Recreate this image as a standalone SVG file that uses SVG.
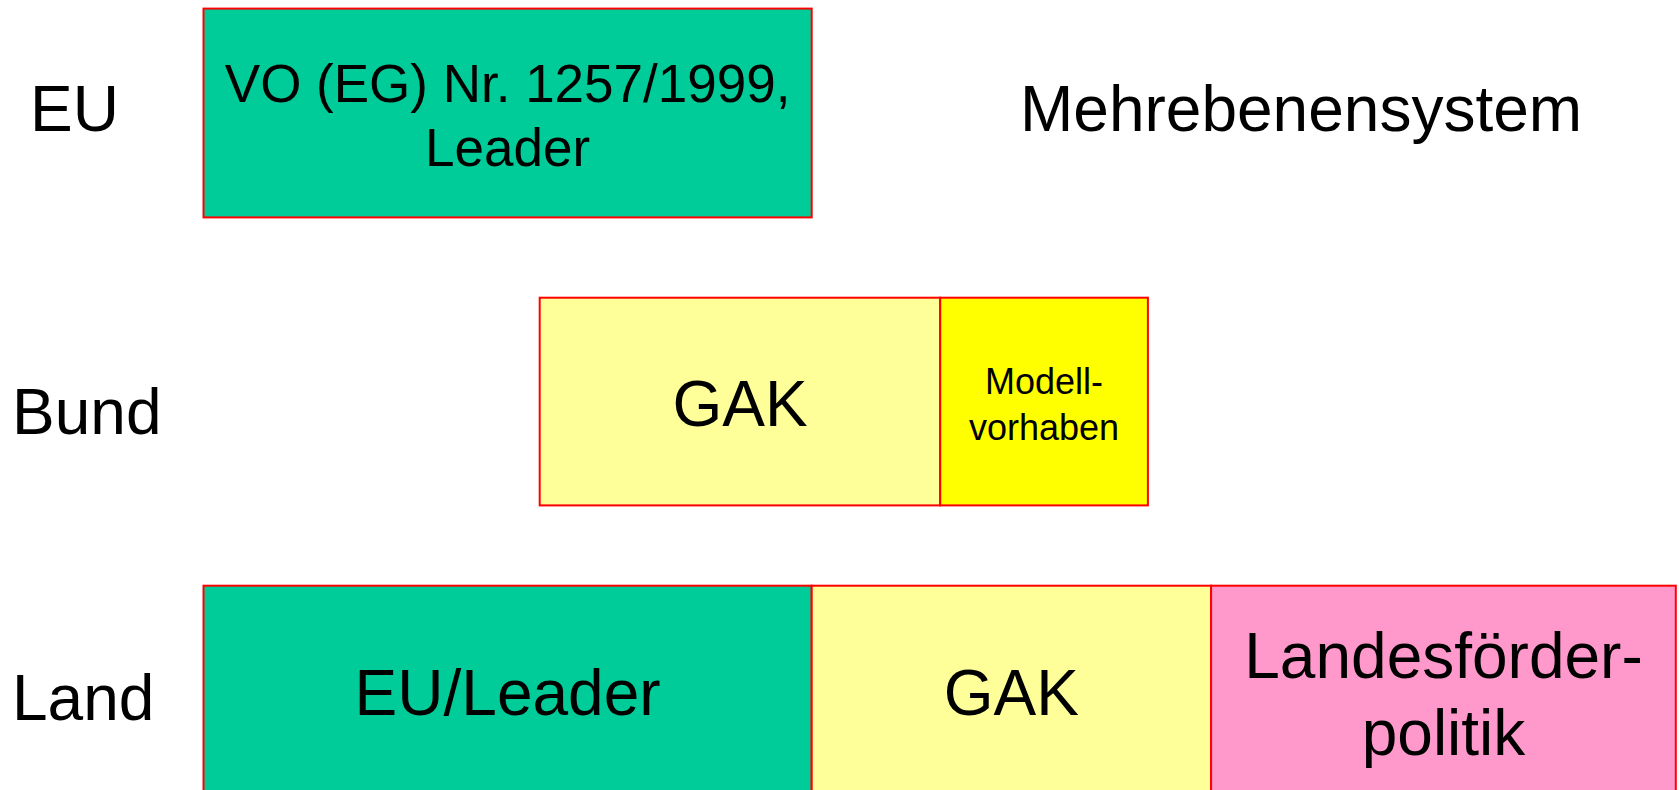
<svg xmlns="http://www.w3.org/2000/svg" width="1679" height="790" viewBox="0 0 1679 790">
<style>
  text { font-family: "Liberation Sans", Arial, sans-serif; fill: #000; }
  .lbl { font-size: 64px; }
  .big { font-size: 64px; text-anchor: middle; }
  .mid { font-size: 53px; text-anchor: middle; }
  .sm { font-size: 36px; text-anchor: middle; }
  .box { stroke: #FF0000; stroke-width: 2; }
  .green { fill: #00CC99; }
  .lyellow { fill: #FFFF99; }
  .yellow { fill: #FFFF00; }
  .pink { fill: #FF99CC; }
</style>
<rect width="1679" height="790" fill="#FFFFFF"/>
<g id="labels">
  <text class="lbl" x="30" y="131">EU</text>
  <text class="lbl" x="12" y="434">Bund</text>
  <text class="lbl" x="12" y="720">Land</text>
  <text class="lbl" x="1020" y="131">Mehrebenensystem</text>
</g>
<g id="eu-vo">
  <rect class="box green" x="203.5" y="8.6" width="608.2" height="208.8"/>
  <text class="mid" x="507.6" y="102">VO (EG) Nr. 1257/1999,</text>
  <text class="mid" x="507.6" y="166">Leader</text>
</g>
<g id="bund-gak">
  <rect class="box lyellow" x="539.7" y="297.7" width="400.5" height="207.7"/>
  <text class="big" x="740" y="426">GAK</text>
</g>
<g id="bund-modell">
  <rect class="box yellow" x="940.2" y="297.7" width="207.7" height="207.7"/>
  <text class="sm" x="1044" y="394">Modell-</text>
  <text class="sm" x="1044" y="440">vorhaben</text>
</g>
<g id="land-eu">
  <rect class="box green" x="203.5" y="585.7" width="608.2" height="210"/>
  <text class="big" x="507.6" y="715">EU/Leader</text>
</g>
<g id="land-gak">
  <rect class="box lyellow" x="811.7" y="585.7" width="399.4" height="210"/>
  <text class="big" x="1011.4" y="715">GAK</text>
</g>
<g id="land-foerder">
  <rect class="box pink" x="1211.1" y="585.7" width="464.7" height="210"/>
  <text class="big" x="1443.5" y="678">Landesförder-</text>
  <text class="big" x="1443.5" y="755">politik</text>
</g>
<g id="connectors"></g>
</svg>
